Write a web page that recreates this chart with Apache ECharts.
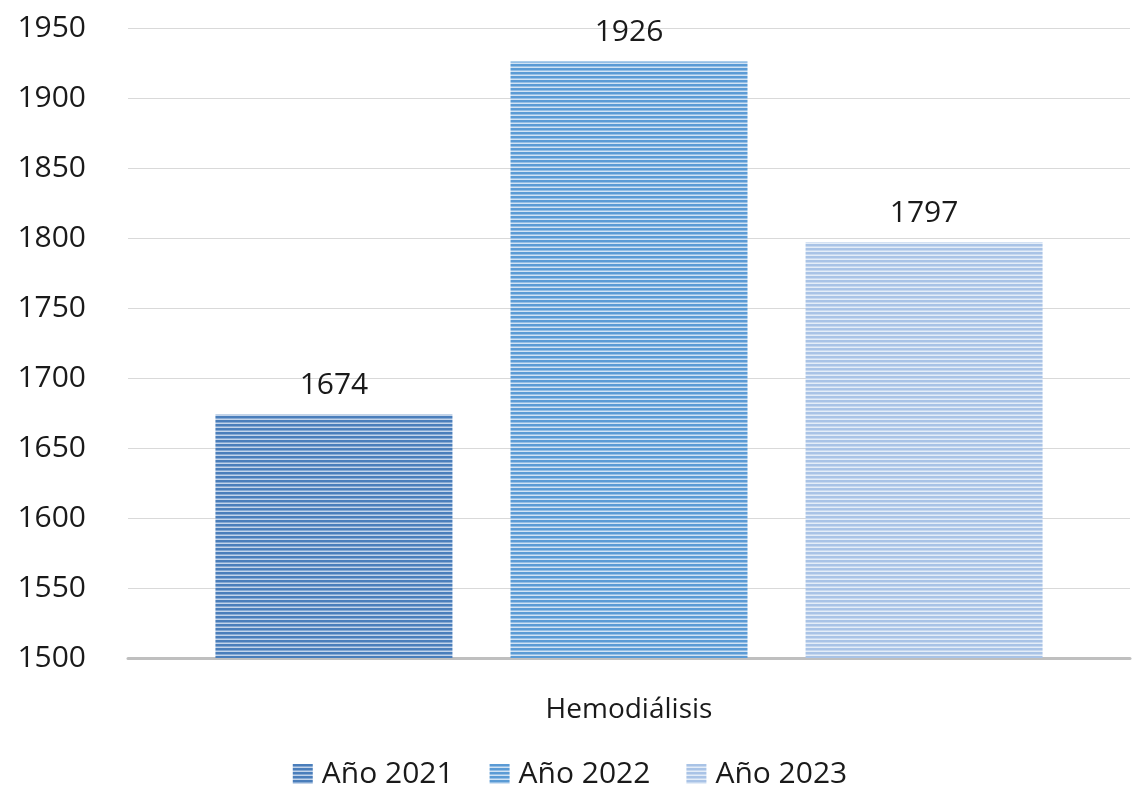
<!DOCTYPE html>
<html>
<head>
<meta charset="utf-8">
<script src="https://cdn.jsdelivr.net/npm/echarts@6/dist/echarts.min.js"></script>
<style>
  html, body { margin: 0; padding: 0; background: #fff; }
  #chart { width: 1140px; height: 800px; }
</style>
</head>
<body>
<div id="chart"></div>
<script>
const categories = ['Hemodiálisis']
const seriesNames = ['Año 2021', 'Año 2022', 'Año 2023']
const values2021 = [1674]
const values2022 = [1926]
const values2023 = [1797]

// striped fills: dark row + light row, repeated
const stripes = [
  ['#4a7ebb', '#c3d4ea'],
  ['#5b9bd5', '#d2e3f4'],
  ['#a9c3e6', '#e4edf8']
]

function stripe(dark, light) {
  const c = document.createElement('canvas')
  c.width = 4; c.height = 4
  const ctx = c.getContext('2d')
  ctx.fillStyle = light
  ctx.fillRect(0, 0, 4, 4)
  ctx.fillStyle = dark
  ctx.fillRect(0, 0, 4, 2.5)
  return { image: c, repeat: 'repeat' }
}

const chart = echarts.init(document.getElementById('chart'))
const font = 'Open Sans, Liberation Sans, sans-serif'

function makeSeries(name, data, i) {
  return {
    name, type: 'bar', data,
    barWidth: 237, barGap: '24.5%',
    itemStyle: { color: stripe(stripes[i][0], stripes[i][1]) },
    label: {
      show: true, position: 'top', distance: 14,
      color: '#1a1a1a', fontSize: 30, fontFamily: font
    }
  }
}

chart.setOption({
  animation: false,
  grid: { left: 128, right: 10, top: 28, bottom: 142 },
  legend: {
    bottom: 6, left: 'center',
    icon: 'rect',
    itemWidth: 20, itemHeight: 20, itemGap: 36,
    textStyle: { fontSize: 30, color: '#1a1a1a', fontFamily: font, padding: [0, 0, 0, 4] },
    data: seriesNames
  },
  xAxis: {
    type: 'category', data: categories,
    axisTick: { show: false },
    axisLine: { lineStyle: { color: '#bfbfbf', width: 3 } },
    axisLabel: { color: '#1a1a1a', fontSize: 28, margin: 38, fontFamily: font }
  },
  yAxis: {
    type: 'value', min: 1500, max: 1950, interval: 50,
    axisLine: { show: false },
    axisTick: { show: false },
    axisLabel: { color: '#1a1a1a', fontSize: 30, margin: 42, fontFamily: font, formatter: v => String(v) },
    splitLine: { lineStyle: { color: '#d9d9d9', width: 1 } }
  },
  series: [
    makeSeries(seriesNames[0], values2021, 0),
    makeSeries(seriesNames[1], values2022, 1),
    makeSeries(seriesNames[2], values2023, 2)
  ]
})
</script>
</body>
</html>
